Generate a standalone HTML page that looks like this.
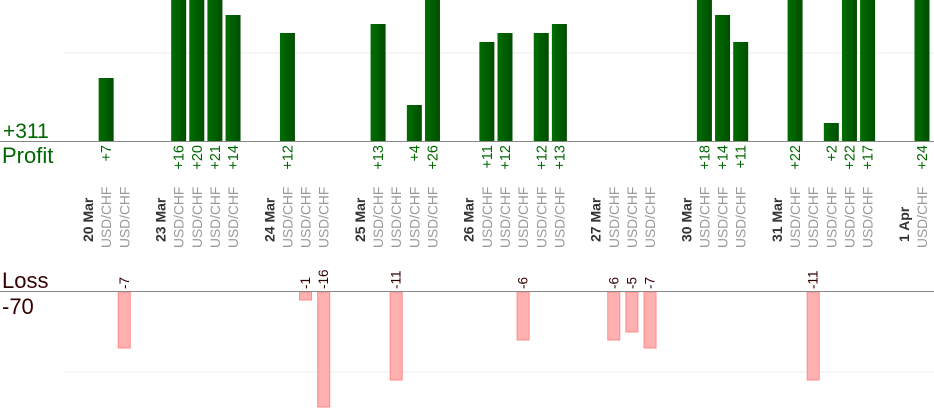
<!DOCTYPE html>
<html><head><meta charset="utf-8"><style>
html,body{margin:0;padding:0;background:#fff;}
svg{display:block;font-family:"Liberation Sans",Arial,sans-serif;}
</style></head><body>
<svg width="934" height="420" viewBox="0 0 934 420" xmlns="http://www.w3.org/2000/svg">
<defs>
<linearGradient id="greenGrad" x1="0" x2="1" y1="0" y2="0"><stop offset="0" stop-color="#006f00"/><stop offset="1" stop-color="#004d00"/></linearGradient>
<linearGradient id="redGrad" x1="0" x2="1" y1="0" y2="0"><stop offset="0" stop-color="#ffc4c4"/><stop offset="1" stop-color="#ff9a9a"/></linearGradient>
</defs>
<line x1="63" y1="53" x2="934" y2="53" stroke="#eee"/>
<line x1="63" y1="372" x2="934" y2="372" stroke="#eee"/>
<g id="bars"></g>
<line x1="0" y1="141.5" x2="934" y2="141.5" stroke="#888"/>
<line x1="0" y1="291.5" x2="934" y2="291.5" stroke="#888"/>
<text x="3" y="138" font-size="21" fill="#006600">+311</text>
<text x="2" y="163" font-size="22" fill="#006600">Profit</text>
<text x="2" y="288" font-size="22" fill="#330000">Loss</text>
<text x="2" y="314" font-size="22" fill="#330000">-70</text>
<g id="labels"></g>
</svg>
<script>
(function(){
var ns="http://www.w3.org/2000/svg";
function X(i){return 88+18.13*i;}
var dates={0:"20 Mar",4:"23 Mar",10:"24 Mar",15:"25 Mar",21:"26 Mar",28:"27 Mar",33:"30 Mar",38:"31 Mar",45:"1 Apr"};
var gaps={3:1,9:1,14:1,20:1,27:1,32:1,37:1,44:1};
var prof={1:7,5:16,6:20,7:21,8:14,11:12,16:13,18:4,19:26,22:11,23:12,25:12,26:13,34:18,35:14,36:11,39:22,41:2,42:22,43:17,46:24};
var loss={2:7,12:1,13:16,17:11,24:6,29:6,30:5,31:7,40:11};
var B=document.getElementById("bars"),L=document.getElementById("labels");
function el(t,a,p,txt){var e=document.createElementNS(ns,t);for(var k in a)e.setAttribute(k,a[k]);if(txt)e.textContent=txt;p.appendChild(e);return e;}
for(var i=0;i<=46;i++){
 var c=X(i);
 if(dates[i]!==undefined){el("text",{x:c+5,y:242,"font-size":14,"font-weight":"bold",fill:"#333",transform:"rotate(-90 "+(c+5)+" 242)"},L,dates[i]);continue;}
 if(gaps[i])continue;
 el("text",{x:c+5,y:248,"font-size":13.8,fill:"#999",transform:"rotate(-90 "+(c+5)+" 248)"},L,"USD/CHF");
 if(prof[i]){var hh=prof[i]*9,yTop=Math.max(0,141-hh);
  el("rect",{x:c-7.5,y:yTop,width:15,height:141-yTop,fill:"url(#greenGrad)"},B);
  el("text",{x:c+5,y:145,"font-size":14.5,fill:"#006600","text-anchor":"end",transform:"rotate(-90 "+(c+5)+" 145)"},L,"+"+prof[i]);}
 if(loss[i]){var h2=Math.min(loss[i]*8,115);
  el("rect",{x:c-6,y:292,width:12,height:h2,fill:"#ffb0b0",stroke:"#ff8a8a","stroke-width":1},B);
  el("text",{x:c+4.5,y:289,"font-size":13.5,fill:"#330000",transform:"rotate(-90 "+(c+4.5)+" 289)"},L,"-"+loss[i]);}
}
})();
</script>
</body></html>
